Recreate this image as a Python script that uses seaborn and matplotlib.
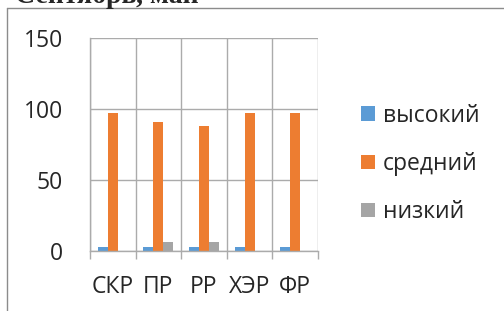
import matplotlib
matplotlib.use('Agg')
import matplotlib.pyplot as plt
import pandas as pd
import seaborn as sns
from matplotlib.lines import Line2D
from matplotlib.patches import Patch

# Chart data
categories = ['СКР', 'ПР', 'РР', 'ХЭР', 'ФР']
levels = ['высокий', 'средний', 'низкий']
high = [3, 3, 3, 3, 3]
medium = [97, 91, 88, 97, 97]
low = [0, 6, 6, 0, 0]
colors = ['#5B9BD5', '#ED7D31', '#A5A5A5']

df = pd.DataFrame({
    'cat': categories * 3,
    'level': [levels[0]] * 5 + [levels[1]] * 5 + [levels[2]] * 5,
    'value': high + medium + low,
})

sns.set_style('white')
plt.rcParams['font.family'] = ['Open Sans', 'DejaVu Sans']

W, H = 504, 311
fig = plt.figure(figsize=(W / 100, H / 100), dpi=100)
ax = fig.add_axes([90 / W, 1 - 251 / H, (318 - 90) / W, (251 - 38) / H])

sns.barplot(data=df, x='cat', y='value', hue='level', palette=colors,
            width=0.66, ax=ax, legend=False, saturation=1, linewidth=0)

grid_c = '#ABABAB'
ax.set_xlim(-0.5, 4.5)
ax.set_ylim(0, 150)
ax.set_yticks([0, 50, 100, 150])
ax.set_xticks(range(5), categories)
ax.set_xticks([i - 0.5 for i in range(6)], minor=True)
ax.set_xlabel('')
ax.set_ylabel('')
ax.grid(axis='y', which='major', color=grid_c, lw=1)
ax.grid(axis='x', which='minor', color=grid_c, lw=1)
ax.set_axisbelow(True)
for s in ['top', 'right']:
    ax.spines[s].set_visible(False)
for s in ['left', 'bottom']:
    ax.spines[s].set_color(grid_c)
    ax.spines[s].set_linewidth(1)
ax.tick_params(axis='y', length=5.8, color=grid_c, width=1, pad=13.5, labelsize=16.5)
ax.tick_params(axis='x', which='major', length=0, pad=17, labelsize=16.5)
ax.tick_params(axis='x', which='minor', length=5.8, color=grid_c, width=1, bottom=True)

handles = [Patch(facecolor=c, edgecolor='none', linewidth=0) for c in colors]
fig.legend(handles, levels, loc='center left', bbox_to_anchor=(361 / W, 1 - 164 / H),
           frameon=False, fontsize=16.5, handlelength=0.62, handleheight=0.62,
           handletextpad=0.32, labelspacing=1.05, borderpad=0, borderaxespad=0)

# outer chart frame (left and top edges visible)
fig.add_artist(Line2D([7 / W, 7 / W], [0, 1 - 8 / H], color='#8C8C8C', lw=1))
fig.add_artist(Line2D([7 / W, 1], [1 - 8 / H, 1 - 8 / H], color='#8C8C8C', lw=1))

# cropped heading from the page above
fig.text(15 / W, 1 - 3 / H, 'Сентябрь, май', family=['Liberation Serif', 'DejaVu Serif'],
         fontweight='bold', fontsize=20, va='baseline')

fig.savefig('out.png', dpi=100)
